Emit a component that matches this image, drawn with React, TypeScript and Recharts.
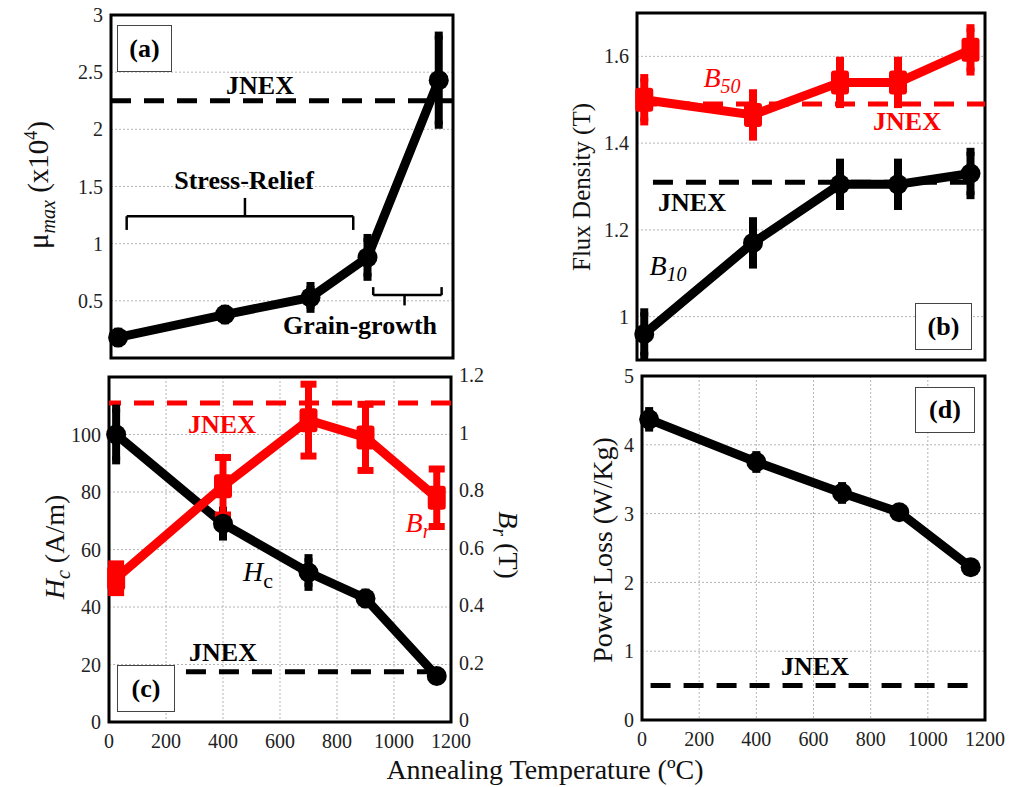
import React from "react";
import {
  LineChart, Line, XAxis, YAxis, CartesianGrid, ErrorBar, ReferenceLine, ReferenceArea,
} from "recharts";

/* ---------- data ---------- */
const temps = [25, 400, 700, 900, 1150];
const xTicks = [0, 200, 400, 600, 800, 1000, 1200];

const muMax = [0.18, 0.38, 0.53, 0.88, 2.43];
const muMaxErr = [0.05, 0.05, 0.1, 0.17, 0.39];
const muJnex = 2.25;

const b50 = [1.5, 1.465, 1.54, 1.54, 1.615];
const b50Err = [0.05, 0.05, 0.05, 0.05, 0.05];
const b50Jnex = 1.49;
const b10 = [0.96, 1.17, 1.305, 1.305, 1.33];
const b10Err = [0.05, 0.05, 0.05, 0.05, 0.05];
const b10Jnex = 1.31;

const hc = [100, 69, 52, 43, 16];
const hcErr = [9, 4.5, 5, 2, 1];
const hcJnex = 17.5;
const br = [0.5, 0.82, 1.05, 0.99, 0.78];
const brErr = [0.05, 0.1, 0.125, 0.115, 0.1];
const brJnex = 1.11;

const powerLoss = [4.37, 3.75, 3.3, 3.02, 2.22];
const powerLossErr = [0.12, 0.1, 0.1, 0.06, 0.03];
const powerLossJnex = 0.5;

const rows = temps.map((t, i) => ({
  t,
  mu: muMax[i], muErr: muMaxErr[i],
  b50: b50[i], b50Err: b50Err[i],
  b10: b10[i], b10Err: b10Err[i],
  hc: hc[i], hcErr: hcErr[i],
  br: br[i], brErr: brErr[i],
  pl: powerLoss[i], plErr: powerLossErr[i],
}));

/* ---------- styling ---------- */
const FONT = "'Liberation Serif', 'DejaVu Serif', serif";
const RED = "#ff0000";
const tick = { fontSize: 20, fill: "#222", fontFamily: FONT };
const LINE_W = 9;
const DASH = "20 13";

type Box = { left: number; top: number; width: number; height: number };

const YW = 60;
const TOP_PAD = 14;

function blackDot(p: any) {
  return <circle key={`d${p.index}`} cx={p.cx} cy={p.cy} r={10} fill="#000" />;
}
function redDot(p: any) {
  return <rect key={`d${p.index}`} x={p.cx - 9} y={p.cy - 12} width={18} height={24} rx={3} fill={RED} />;
}

// rightAxis: the right-hand space is taken by a YAxis; otherwise it is plain margin
function Frame({ box, rightW = 10, rightAxis = false, bottomLabels, children }: {
  box: Box; rightW?: number; rightAxis?: boolean; bottomLabels: boolean; children: React.ReactNode;
}) {
  const xh = bottomLabels ? 40 : 10;
  return (
    <div style={{ position: "absolute", left: box.left - YW, top: box.top - TOP_PAD }}>
      <LineChart
        width={box.width + YW + rightW}
        height={box.height + TOP_PAD + xh}
        data={rows}
        margin={{ top: TOP_PAD, right: rightAxis ? 0 : rightW, left: 0, bottom: 0 }}
      >
        {children}
      </LineChart>
    </div>
  );
}

function xAxis(show: boolean) {
  return (
    <XAxis
      dataKey="t"
      type="number"
      domain={[0, 1200]}
      ticks={xTicks}
      tick={show ? tick : false}
      tickLine={false}
      axisLine={false}
      tickMargin={6}
      height={show ? 40 : 10}
      interval={0}
    />
  );
}

function PanelTag({ x, y, w, h, text }: { x: number; y: number; w: number; h: number; text: string }) {
  return (
    <div style={{
      position: "absolute", left: x, top: y, width: w, height: h, boxSizing: "border-box",
      border: "1.5px solid #444", background: "#fff", display: "flex", alignItems: "center",
      justifyContent: "center", fontWeight: "bold", fontSize: 26, fontFamily: FONT,
    }}>{text}</div>
  );
}

function Note({ x, y, children, color = "#000", size = 26, bold = true, italic = false }: any) {
  return (
    <div style={{
      position: "absolute", left: x, top: y, transform: "translate(-50%, -50%)",
      whiteSpace: "nowrap", color, fontSize: size, fontFamily: FONT,
      fontWeight: bold ? "bold" : "normal", fontStyle: italic ? "italic" : "normal", lineHeight: 1,
    }}>{children}</div>
  );
}

function VLabel({ x, y, children, size = 28, rot = -90 }: any) {
  return (
    <div style={{
      position: "absolute", left: x, top: y, transform: `translate(-50%, -50%) rotate(${rot}deg)`,
      whiteSpace: "nowrap", fontSize: size, fontFamily: FONT, color: "#111", lineHeight: 1,
    }}>{children}</div>
  );
}

const boxA: Box = { left: 111, top: 15, width: 342, height: 343 };
const boxB: Box = { left: 637, top: 13, width: 348, height: 347 };
const boxC: Box = { left: 109, top: 377, width: 342, height: 345 };
const boxD: Box = { left: 642, top: 376, width: 343, height: 344 };

const gridProps = { strokeDasharray: "2 2", stroke: "#b5b5b5", strokeWidth: 1 };

function frameArea(y1: number, y2: number, yAxisId?: string) {
  return (
    <ReferenceArea
      x1={0} x2={1200} y1={y1} y2={y2}
      {...(yAxisId ? { yAxisId } : {})}
      fill="none" fillOpacity={0} stroke="#000" strokeWidth={3} ifOverflow="visible"
    />
  );
}

export default function App() {
  return (
    <div style={{ position: "absolute", left: 0, top: 0, width: 1009, height: 787, background: "#fff", fontFamily: FONT, overflow: "hidden" }}>
      {/* (a) mu max */}
      <Frame box={boxA} bottomLabels={false}>
        <CartesianGrid {...gridProps} />
        {xAxis(false)}
        <YAxis type="number" domain={[0, 3]} ticks={[0.5, 1, 1.5, 2, 2.5, 3]} tick={tick}
          tickLine={false} axisLine={false} width={YW} interval={0} />
        {frameArea(0, 3)}
        <ReferenceLine y={muJnex} stroke="#000" strokeWidth={5} strokeDasharray={DASH} />
        {/* Stress-relief brace */}
        <ReferenceLine segment={[{ x: 55, y: 1.12 }, { x: 55, y: 1.24 }]} stroke="#000" strokeWidth={2.5} />
        <ReferenceLine segment={[{ x: 55, y: 1.24 }, { x: 850, y: 1.24 }]} stroke="#000" strokeWidth={2.5} />
        <ReferenceLine segment={[{ x: 850, y: 1.24 }, { x: 850, y: 1.12 }]} stroke="#000" strokeWidth={2.5} />
        <ReferenceLine segment={[{ x: 470, y: 1.24 }, { x: 470, y: 1.4 }]} stroke="#000" strokeWidth={2.5} />
        {/* Grain-growth brace */}
        <ReferenceLine segment={[{ x: 920, y: 0.62 }, { x: 920, y: 0.55 }]} stroke="#000" strokeWidth={2.5} />
        <ReferenceLine segment={[{ x: 920, y: 0.55 }, { x: 1160, y: 0.55 }]} stroke="#000" strokeWidth={2.5} />
        <ReferenceLine segment={[{ x: 1160, y: 0.55 }, { x: 1160, y: 0.62 }]} stroke="#000" strokeWidth={2.5} />
        <ReferenceLine segment={[{ x: 1030, y: 0.55 }, { x: 1030, y: 0.46 }]} stroke="#000" strokeWidth={2.5} />
        <Line dataKey="mu" stroke="#000" strokeWidth={LINE_W} dot={blackDot} isAnimationActive={false}>
          <ErrorBar dataKey="muErr" direction="y" width={4} strokeWidth={8} stroke="#000" />
        </Line>
      </Frame>

      {/* (b) flux density */}
      <Frame box={boxB} bottomLabels={false}>
        <CartesianGrid {...gridProps} />
        {xAxis(false)}
        <YAxis type="number" domain={[0.9, 1.7]} ticks={[1, 1.2, 1.4, 1.6]} tick={tick}
          tickLine={false} axisLine={false} width={YW} interval={0} allowDataOverflow />
        {frameArea(0.9, 1.7)}
        <ReferenceLine y={b50Jnex} stroke={RED} strokeWidth={5} strokeDasharray={DASH} />
        <ReferenceLine segment={[{ x: 55, y: b10Jnex }, { x: 1150, y: b10Jnex }]} stroke="#000" strokeWidth={5} strokeDasharray={DASH} />
        <Line dataKey="b50" stroke={RED} strokeWidth={LINE_W} dot={redDot} isAnimationActive={false}>
          <ErrorBar dataKey="b50Err" direction="y" width={4} strokeWidth={8} stroke={RED} />
        </Line>
        <Line dataKey="b10" stroke="#000" strokeWidth={LINE_W} dot={blackDot} isAnimationActive={false}>
          <ErrorBar dataKey="b10Err" direction="y" width={4} strokeWidth={8} stroke="#000" />
        </Line>
      </Frame>

      {/* (c) Hc and Br */}
      <Frame box={boxC} bottomLabels rightW={50} rightAxis>
        <CartesianGrid {...gridProps} yAxisId="left" />
        {xAxis(true)}
        <YAxis yAxisId="left" type="number" domain={[0, 120]} ticks={[0, 20, 40, 60, 80, 100]} tick={tick}
          tickLine={false} axisLine={false} width={YW} interval={0} />
        <YAxis yAxisId="right" orientation="right" type="number" domain={[0, 1.2]}
          ticks={[0, 0.2, 0.4, 0.6, 0.8, 1, 1.2]} tick={{ ...tick, dy: -2 }}
          tickLine={false} axisLine={false} width={50} interval={0} />
        {frameArea(0, 120, "left")}
        <ReferenceLine yAxisId="right" y={brJnex} stroke={RED} strokeWidth={5} strokeDasharray={DASH} />
        <ReferenceLine yAxisId="left" segment={[{ x: 270, y: hcJnex }, { x: 1150, y: hcJnex }]} stroke="#000" strokeWidth={5} strokeDasharray={DASH} />
        <Line yAxisId="left" dataKey="hc" stroke="#000" strokeWidth={LINE_W} dot={blackDot} isAnimationActive={false}>
          <ErrorBar dataKey="hcErr" direction="y" width={4} strokeWidth={8} stroke="#000" />
        </Line>
        <Line yAxisId="right" dataKey="br" stroke={RED} strokeWidth={LINE_W} dot={redDot} isAnimationActive={false}>
          <ErrorBar dataKey="brErr" direction="y" width={8} strokeWidth={7} stroke={RED} />
        </Line>
      </Frame>

      {/* (d) power loss */}
      <Frame box={boxD} bottomLabels rightW={24}>
        <CartesianGrid {...gridProps} />
        {xAxis(true)}
        <YAxis type="number" domain={[0, 5]} ticks={[0, 1, 2, 3, 4, 5]} tick={tick}
          tickLine={false} axisLine={false} width={YW} interval={0} />
        {frameArea(0, 5)}
        <ReferenceLine segment={[{ x: 30, y: powerLossJnex }, { x: 1170, y: powerLossJnex }]} stroke="#000" strokeWidth={5} strokeDasharray={DASH} />
        <Line dataKey="pl" stroke="#000" strokeWidth={LINE_W} dot={blackDot} isAnimationActive={false}>
          <ErrorBar dataKey="plErr" direction="y" width={4} strokeWidth={8} stroke="#000" />
        </Line>
      </Frame>

      {/* panel tags */}
      <PanelTag x={117} y={25} w={55} h={47} text="(a)" />
      <PanelTag x={915} y={303} w={57} h={47} text="(b)" />
      <PanelTag x={117} y={665} w={58} h={47} text="(c)" />
      <PanelTag x={915} y={387} w={60} h={46} text="(d)" />

      {/* annotations */}
      <Note x={260} y={86}>JNEX</Note>
      <Note x={244} y={181}>Stress-Relief</Note>
      <Note x={360} y={326}>Grain-growth</Note>

      <Note x={907} y={122} color={RED}>JNEX</Note>
      <Note x={692} y={203}>JNEX</Note>
      <Note x={722} y={80} color={RED} bold={false} italic size={28}>B<sub style={{ fontSize: 20 }}>50</sub></Note>
      <Note x={668} y={268} bold={false} italic size={28}>B<sub style={{ fontSize: 20 }}>10</sub></Note>

      <Note x={222} y={425} color={RED}>JNEX</Note>
      <Note x={223} y={653}>JNEX</Note>
      <Note x={418} y={525} color={RED} bold={false} italic size={28}>B<sub style={{ fontSize: 20 }}>r</sub></Note>
      <Note x={258} y={575} bold={false} size={28}><i>H</i><sub style={{ fontSize: 22 }}>c</sub></Note>

      <Note x={815} y={667}>JNEX</Note>

      {/* axis titles */}
      <VLabel x={40} y={185} size={29}>
        μ<sub style={{ fontSize: 20 }}><i>max</i></sub> (x10<sup style={{ fontSize: 18 }}>4</sup>)
      </VLabel>
      <VLabel x={581} y={187} size={25}>Flux Density (T)</VLabel>
      <VLabel x={57} y={547} size={28}><i>H</i><sub style={{ fontSize: 20 }}><i>c</i></sub> (A/m)</VLabel>
      <VLabel x={506} y={545} size={28} rot={90}><i>B</i><sub style={{ fontSize: 20 }}><i>r</i></sub> (T)</VLabel>
      <VLabel x={603} y={550} size={28}>Power Loss (W/Kg)</VLabel>

      <div style={{
        position: "absolute", left: 545, top: 770, transform: "translate(-50%, -50%)",
        fontSize: 28, fontFamily: FONT, color: "#111", whiteSpace: "nowrap", lineHeight: 1,
      }}>Annealing Temperature (ºC)</div>
    </div>
  );
}
